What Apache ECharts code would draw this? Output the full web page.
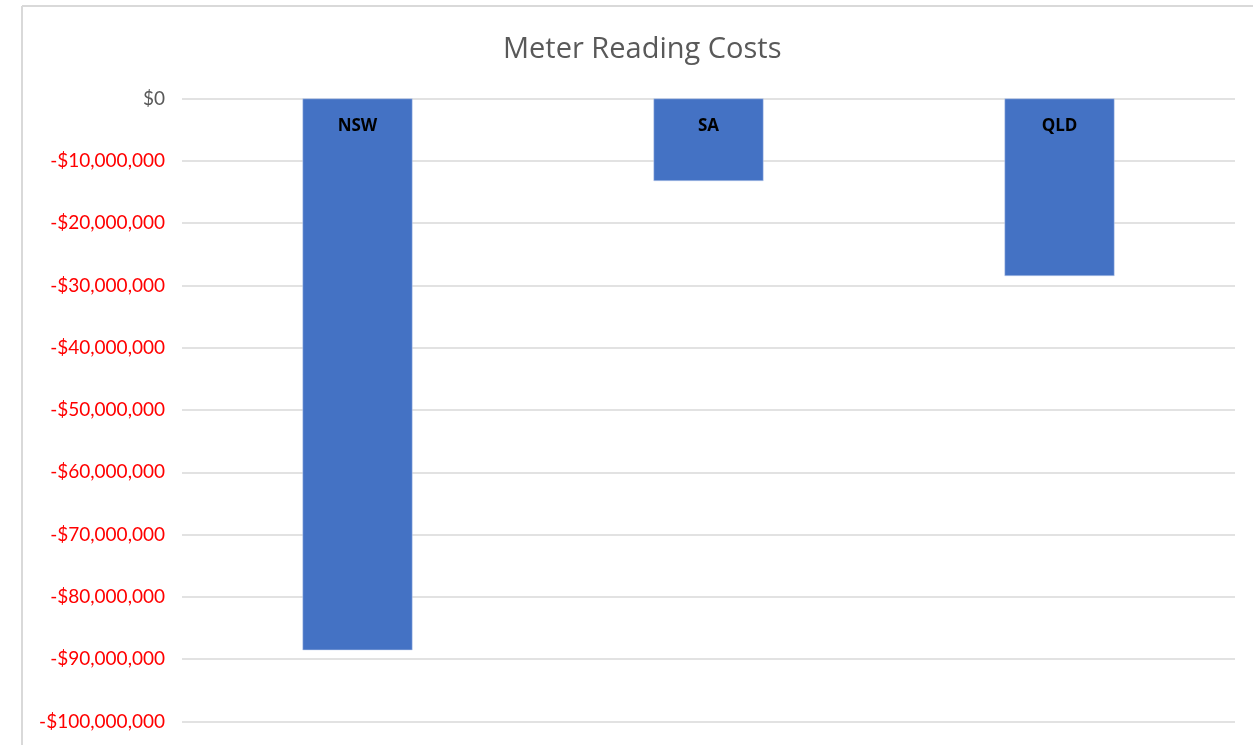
<!DOCTYPE html>
<html>
<head>
<meta charset="utf-8">
<script src="https://cdn.jsdelivr.net/npm/echarts@6/dist/echarts.min.js"></script>
<style>
html,body{margin:0;padding:0;background:#fff;}
#chart{width:1253px;height:745px;}
</style>
</head>
<body>
<div id="chart"></div>
<script>
const categories = ['NSW', 'SA', 'QLD'];
const costValues = [-88560000, -13250000, -28500000];
const yTicks = { min: -100000000, max: 0, interval: 10000000 };
const titleText = 'Meter Reading Costs';

function fmtMoney(v) {
  if (v === 0) return '$0';
  const s = Math.abs(v).toString().replace(/\B(?=(\d{3})+(?!\d))/g, ',');
  return (v < 0 ? '-$' : '$') + s;
}

const chart = echarts.init(document.getElementById('chart'), null, { renderer: 'canvas' });
chart.setOption({
  animation: false,
  backgroundColor: '#ffffff',
  textStyle: { fontFamily: 'Lato, "Open Sans", sans-serif' },
  title: {
    text: titleText,
    left: 498,
    top: 30,
    textStyle: { fontSize: 29, fontWeight: 'normal', color: '#595959', fontFamily: '"Open Sans", Lato, sans-serif' }
  },
  graphic: [
    { type: 'line', shape: { x1: 22, y1: 6, x2: 1253, y2: 6 }, style: { stroke: '#d9d9d9', lineWidth: 2 }, silent: true },
    { type: 'line', shape: { x1: 22, y1: 6, x2: 22, y2: 745 }, style: { stroke: '#d9d9d9', lineWidth: 2 }, silent: true }
  ],
  grid: { left: 182, right: 18, top: 98.5, bottom: 23.5, containLabel: false },
  xAxis: {
    type: 'category',
    data: categories,
    position: 'top',
    axisLine: { show: false },
    axisTick: { show: false },
    axisLabel: { show: false }
  },
  yAxis: {
    type: 'value',
    min: yTicks.min,
    max: yTicks.max,
    interval: yTicks.interval,
    axisLine: { show: false },
    axisTick: { show: false },
    splitLine: { lineStyle: { color: '#d9d9d9', width: 1.5 } },
    axisLabel: {
      margin: 17,
      fontSize: 19,
      fontFamily: 'Lato, sans-serif',
      formatter: v => fmtMoney(v),
      color: (v) => (Number(v) < 0 ? '#ff0000' : '#595959')
    }
  },
  series: [{
    type: 'bar',
    data: costValues,
    barWidth: 110,
    itemStyle: { color: '#4472c4', borderColor: '#c9d6f0', borderWidth: 0.5 },
    label: {
      show: true,
      position: 'insideTop',
      distance: 19,
      formatter: p => p.name,
      color: '#000000',
      fontSize: 17,
      fontWeight: 'bold',
      fontFamily: '"Open Sans", Lato, sans-serif'
    }
  }]
});
</script>
</body>
</html>
